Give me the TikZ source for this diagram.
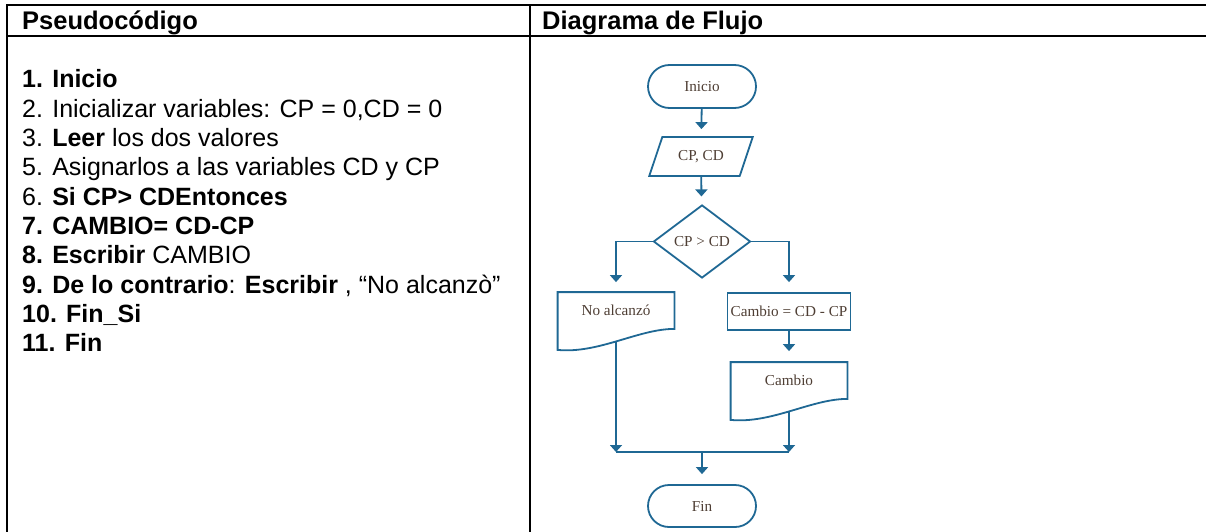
\documentclass[tikz,border=0pt]{standalone}
\usepackage{fontspec}
\setmainfont{Liberation Sans}
\newfontfamily\flujofont{Liberation Serif}
\usetikzlibrary{shapes.geometric,shapes.misc,arrows.meta,positioning}
\definecolor{azulflujo}{RGB}{31,104,148}
\definecolor{textoflujo}{RGB}{78,62,52}

\begin{document}
\begin{tikzpicture}[x=1pt,y=1pt]
    \tikzset{tabla/.style={line width=2.5pt, line cap=rect},
        texto/.style={anchor=base west, inner sep=0pt, font=\fontsize{25}{29}\selectfont},
        cabecera/.style={texto, font=\fontsize{25.5}{29}\selectfont\bfseries},
        caja/.style={draw=azulflujo, line width=1.8pt, text=textoflujo, inner sep=2pt,
            font=\flujofont\fontsize{15.2}{17}\selectfont},
        terminal/.style={caja, rounded rectangle, minimum width=112pt, minimum height=43pt},
        conector/.style={draw=azulflujo, line width=1.8pt},
        flecha/.style={conector, -{Triangle[width=12pt,length=7pt]}, shorten >=9pt}}
    \useasboundingbox (0,0) rectangle (1206,-532);

    %Tabla
    \draw[tabla] (7,-532) -- (7,-5) -- (1206,-5);
    \draw[tabla] (530,-5) -- (530,-532);
    \draw[tabla] (7,-36) -- (1206,-36);
    \node[cabecera] (hpseudo) at (22,-29.5) {Pseudocódigo};
    \node[cabecera] (hflujo)  at (542,-29.5) {Diagrama de Flujo};

    %Pseudocodigo
    \node[texto] (paso1)  at (22,-88)    {\textbf{1. Inicio}};
    \node[texto] (paso2)  at (22,-117.3) {2. Inicializar variables: CP = 0,CD = 0};
    \node[texto] (paso3)  at (22,-146.6) {3. \textbf{Leer} los dos valores};
    \node[texto] (paso5)  at (22,-175.9) {5. Asignarlos a las variables CD y CP};
    \node[texto] (paso6)  at (22,-205.2) {6. \textbf{Si CP> CDEntonces}};
    \node[texto] (paso7)  at (22,-234.5) {\textbf{7. CAMBIO= CD-CP}};
    \node[texto] (paso8)  at (22,-263.8) {\textbf{8. Escribir} CAMBIO};
    \node[texto] (paso9)  at (22,-293.1) {\textbf{9. De lo contrario}: \textbf{Escribir} , “No alcanzò”};
    \node[texto] (paso10) at (22,-322.4) {\textbf{10. Fin\_Si}};
    \node[texto] (paso11) at (22,-351.7) {\textbf{11. Fin}};

    %Diagrama
    \node[terminal] (inicio) at (702,-86.5) {Inicio};
    \node[caja, trapezium, trapezium left angle=63, trapezium right angle=117,
        trapezium stretches=true, minimum width=104pt, minimum height=39pt]
        (leer) at (701,-156.5) {CP, CD};
    \node[caja, diamond, aspect=1.33, minimum width=97pt, minimum height=73pt, inner sep=0pt]
        (decision) at (702,-241.5) {CP > CD};
    \node[caja, draw=none, minimum width=115pt, minimum height=35pt]
        (noalc) at (616,-310.5) {No alcanzó};
    \node[caja, minimum width=123pt, minimum height=37pt]
        (asig) at (789,-311.5) {Cambio = CD - CP};
    \node[caja, draw=none, minimum width=115pt, minimum height=35pt]
        (cambio) at (789,-380.5) {Cambio};
    \node[terminal, minimum height=42pt] (fin) at (702,-506) {Fin};
    \coordinate (union) at (702,-452);

    %Documentos
    \draw[conector] (noalc.north west) -- (noalc.north east) -- (noalc.south east)
        .. controls +(-36,0) and +(41,-4) .. ([yshift=-21pt]noalc.south west) -- cycle;
    \draw[conector] (cambio.north west) -- (cambio.north east) -- (cambio.south east)
        .. controls +(-36,0) and +(41,-4) .. ([yshift=-21pt]cambio.south west) -- cycle;

    %Conectores
    \draw[flecha, shorten >=7pt] (inicio) -- (leer);
    \draw[flecha, shorten >=8pt] (leer) -- (decision);
    \draw[flecha, shorten >=10pt] (decision.west) -| (noalc.north);
    \draw[flecha, shorten >=10pt] (decision.east) -| (asig.north);
    \draw[flecha, shorten >=11pt] (asig) -- (cambio);
    \draw[flecha, shorten >=0pt] ([yshift=-12pt]noalc.south) -- (noalc.south |- union);
    \draw[flecha, shorten >=0pt] ([yshift=-12pt]cambio.south) -- (cambio.south |- union);
    \draw[conector] (noalc.south |- union) -- (cambio.south |- union);
    \draw[flecha, shorten >=10pt] (union) -- (fin);
\end{tikzpicture}
\end{document}
